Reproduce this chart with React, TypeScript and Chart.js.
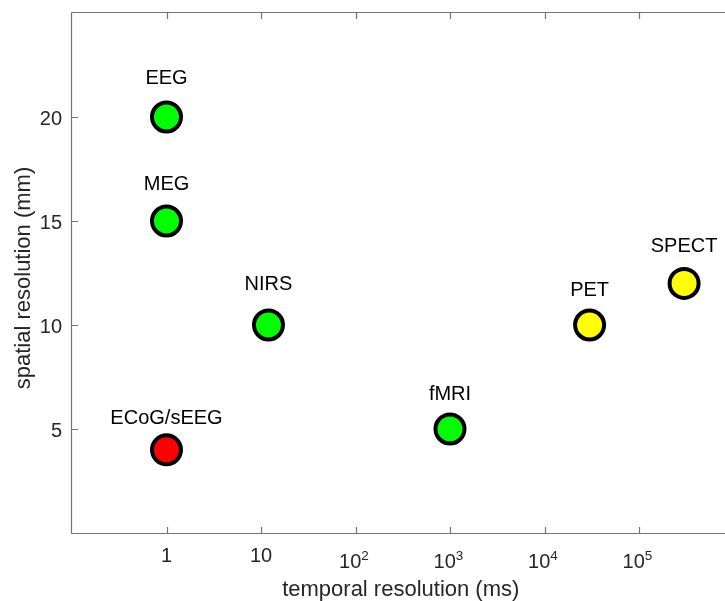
import React, { useEffect, useRef } from "react";
import { Chart, registerables } from "chart.js";

Chart.register(...registerables);

// ---- data ----
const methods = ["EEG", "MEG", "NIRS", "fMRI", "ECoG/sEEG", "PET", "SPECT"];
const temporalMs = [1, 1, 12, 1000, 1, 30000, 300000];
const spatialMm = [20, 15, 10, 5, 4, 10, 12];
const labelY = [21.6, 16.5, 11.7, 6.4, 5.25, 11.4, 13.5];
const pointColors = ["#00ff00", "#00ff00", "#00ff00", "#00ff00", "#ff0000", "#ffff00", "#ffff00"];
const xTickValues = [1, 10, 100, 1000, 10000, 100000];
const yTickValues = [5, 10, 15, 20];
const xMin = 0.1;
const xMax = 1e6;
const yMin = 0;
const yMax = 25;
const xTitle = "temporal resolution (ms)";
const yTitle = "spatial resolution (mm)";

const FONT = "'Liberation Sans', Arial, Helvetica, sans-serif";
const AXIS_COLOR = "#737373";
const TEXT_COLOR = "#262626";
const CANVAS_W = 760;
const CANVAS_H = 601;

const framePlugin = {
  id: "matlabFrame",
  afterDraw(chart: any) {
    const { ctx, chartArea } = chart;
    const xs = chart.scales.x;
    const ys = chart.scales.y;
    const { left, right, top, bottom } = chartArea;
    ctx.save();

    // axes box
    ctx.strokeStyle = AXIS_COLOR;
    ctx.lineWidth = 1.2;
    ctx.beginPath();
    ctx.moveTo(left - 0.5, top - 0.5);
    ctx.lineTo(right + 0.5, top - 0.5);
    ctx.moveTo(left - 0.5, bottom + 0.5);
    ctx.lineTo(right + 0.5, bottom + 0.5);
    ctx.moveTo(left - 0.5, top - 0.5);
    ctx.lineTo(left - 0.5, bottom + 0.5);
    ctx.moveTo(right + 0.5, top - 0.5);
    ctx.lineTo(right + 0.5, bottom + 0.5);
    ctx.stroke();

    // inward ticks
    const tl = 6.5;
    ctx.beginPath();
    xTickValues.forEach((v) => {
      const px = Math.round(xs.getPixelForValue(v)) + 0.5;
      ctx.moveTo(px, bottom + 0.5);
      ctx.lineTo(px, bottom + 0.5 - tl);
      ctx.moveTo(px, top - 0.5);
      ctx.lineTo(px, top - 0.5 + tl);
    });
    yTickValues.forEach((v) => {
      const py = Math.round(ys.getPixelForValue(v)) + 0.5;
      ctx.moveTo(left - 0.5, py);
      ctx.lineTo(left - 0.5 + tl, py);
      ctx.moveTo(right + 0.5, py);
      ctx.lineTo(right + 0.5 - tl, py);
    });
    ctx.stroke();

    // x tick labels (powers of ten)
    ctx.fillStyle = TEXT_COLOR;
    ctx.textBaseline = "alphabetic";
    xTickValues.forEach((v) => {
      const px = xs.getPixelForValue(v);
      const e = Math.round(Math.log10(v));
      if (e <= 1) {
        ctx.font = `20px ${FONT}`;
        ctx.textAlign = "center";
        ctx.fillText(String(v), px, bottom + 29);
      } else {
        ctx.font = `20px ${FONT}`;
        const baseW = ctx.measureText("10").width;
        ctx.font = `13.5px ${FONT}`;
        const expW = ctx.measureText(String(e)).width;
        const start = px - (baseW + expW) / 2 - 1.5;
        ctx.textAlign = "left";
        ctx.font = `20px ${FONT}`;
        ctx.fillText("10", start, bottom + 35);
        ctx.font = `13.5px ${FONT}`;
        ctx.fillText(String(e), start + baseW, bottom + 27);
      }
    });

    // axis titles
    ctx.font = `22px ${FONT}`;
    ctx.textAlign = "center";
    ctx.fillText(xTitle, (left + right) / 2 - 2, bottom + 63);
    ctx.save();
    ctx.translate(30, (top + bottom) / 2 + 5);
    ctx.rotate(-Math.PI / 2);
    ctx.fillText(yTitle, 0, 0);
    ctx.restore();

    // point labels
    ctx.fillStyle = "#000";
    ctx.font = `20px ${FONT}`;
    ctx.textAlign = "center";
    methods.forEach((m, i) => {
      const px = xs.getPixelForValue(temporalMs[i]);
      const py = ys.getPixelForValue(labelY[i]);
      ctx.fillText(m, px, py);
    });

    ctx.restore();
  },
};

export default function App() {
  const canvasRef = useRef<HTMLCanvasElement | null>(null);

  useEffect(() => {
    const canvas = canvasRef.current;
    if (!canvas) return;
    const chart = new Chart(canvas, {
      type: "scatter",
      data: {
        datasets: [
          {
            label: "methods",
            data: temporalMs.map((x, i) => ({ x, y: spatialMm[i] })),
            pointRadius: 14.5,
            pointHoverRadius: 14.5,
            pointBackgroundColor: pointColors,
            pointBorderColor: "#000000",
            pointBorderWidth: 4,
            pointHoverBorderWidth: 4,
            showLine: false,
          },
        ],
      },
      options: {
        responsive: false,
        animation: false,
        devicePixelRatio: 1,
        layout: {
          autoPadding: false,
          padding: { top: 13, right: CANVAS_W - 733.5, left: 0, bottom: 0 },
        },
        plugins: {
          legend: { display: false },
          tooltip: { enabled: false },
        },
        events: [],
        scales: {
          x: {
            type: "logarithmic",
            min: xMin,
            max: xMax,
            grid: { display: false, drawTicks: false },
            border: { display: false },
            ticks: { display: false },
            afterBuildTicks: (s: any) => {
              s.ticks = xTickValues.map((v) => ({ value: v }));
            },
            afterFit: (s: any) => {
              s.height = 68;
              s.paddingLeft = 0;
              s.paddingRight = 0;
              s.paddingTop = 0;
              s.paddingBottom = 0;
            },
          },
          y: {
            type: "linear",
            min: yMin,
            max: yMax,
            grid: { display: false, drawTicks: false },
            border: { display: false },
            ticks: {
              color: TEXT_COLOR,
              font: { family: FONT, size: 20 },
              padding: 10,
              labelOffset: 2,
            },
            afterBuildTicks: (s: any) => {
              s.ticks = yTickValues.map((v) => ({ value: v }));
            },
            afterFit: (s: any) => {
              s.width = 72;
              s.paddingLeft = 0;
              s.paddingRight = 0;
              s.paddingTop = 0;
              s.paddingBottom = 0;
            },
          },
        },
      } as any,
      plugins: [framePlugin],
    });
    return () => chart.destroy();
  }, []);

  return (
    <div
      style={{
        position: "fixed",
        left: 0,
        top: 0,
        width: 725,
        height: 601,
        overflow: "hidden",
        background: "#ffffff",
      }}
    >
      <canvas ref={canvasRef} width={CANVAS_W} height={CANVAS_H} style={{ display: "block" }} />
    </div>
  );
}
